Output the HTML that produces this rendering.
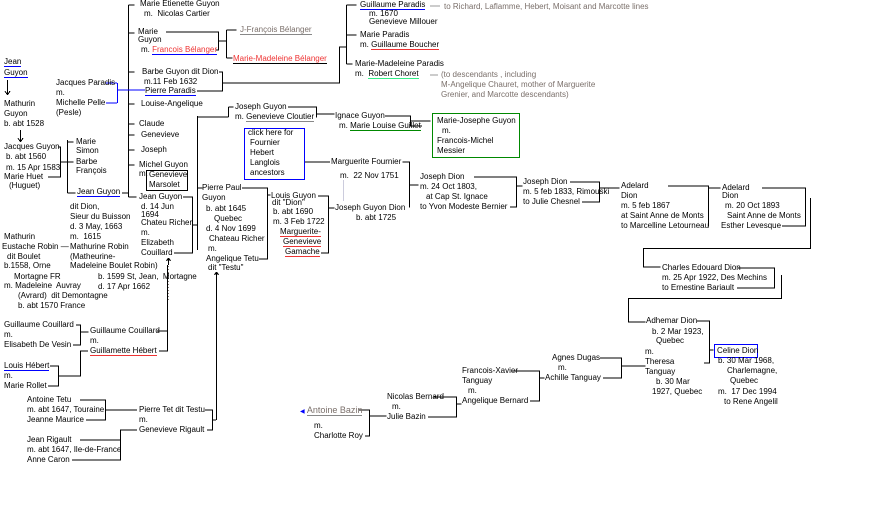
<!DOCTYPE html>
<html><head><meta charset="utf-8"><style>
body{margin:0;width:872px;height:517px;background:#fff;position:relative;overflow:hidden;font-family:"Liberation Sans",sans-serif;font-size:8px;color:#000}
.t{position:absolute;white-space:nowrap;line-height:10px}
.g{color:#7a6f6a}.r{color:#e33}
.ub{border-bottom:1px solid #00f}.ur{border-bottom:1px solid #e33}.ug{border-bottom:1px solid #080}.uk{border-bottom:1px solid #000}.ugr{border-bottom:1px solid #888}.ugn{border-bottom:1px solid #3e8}
.box{position:absolute;box-sizing:border-box}
svg{position:absolute;left:0;top:0}
</style></head><body>
<svg width="872" height="517" shape-rendering="crispEdges" fill="none" stroke="#000" stroke-width="1">
<path d="M7.5 80V95M20.5 130V142"/>
<path d="M7.5 95l-2.5 -4M7.5 95l2.5 -4M20.5 142l-2.5 -4M20.5 142l2.5 -4"/>
<path d="M58 147h2.5v30H48M60.5 162H67.5M67.5 140V193M67.5 142h6M67.5 162h6M67.5 193h8"/>
<path d="M122 193h6.5M128.5 5V197M128.5 5h6M128.5 33h6M128.5 72h6M128.5 104h6M128.5 124h6M128.5 135h6M128.5 150h6M128.5 165h6M128.5 197h8"/>
<path d="M166 32h52.5v18H216M218.5 41h7.5M226.5 30V58M226.5 30h10M226.5 58h6"/>
<path d="M219 72h3.5v19H197M222.5 83H339.5V47H346.5M346.5 5V64M346.5 5h10M346.5 35h10M346.5 64h6"/>
<path d="M183 197h9.5v56H174M192.5 225h4.5M197.5 116V250M197.5 117h31M228.5 107V117M228.5 107h5M197.5 188h5"/>
<path d="M288 107h28.5v10H316M316.5 114h18M385 116h25.5v10H422M410.5 121h20"/>
<path d="M242 188h25.5v71H259M267.5 195h3M318 196h10.5v57H321M328.5 208h6M410 207h-0.5V162h-7M409.5 185h9"/>
<path d="M304 162h26M474 177h42.5v30H510M516.5 186h6M570 182h29.5v20H582M599.5 188h20M668 186h40.5v40H708M708.5 188h12M762 188h43.5v38H782M810.5 198V248.5H643.5V267h17M738 268h36.5v20H737M781.5 275V298.5H628.5V322h17"/>
<path d="M697 321h12.5v42H704M709.5 350h4"/>
<path d="M600 358h21.5v20H603M621.5 366h24M512 371h27.5v30H530M539.5 378h5M433 397h23.5v20H428M456.5 404h5M359 410h10.5v26H365M369.5 416h17"/>
<path d="M76 325h4.5v20H73M80.5 332h8M157 331h10.5v20H159M167.5 331V265M50 366h8.5v20H48M58.5 376h22V351H88"/>
<path d="M80 400h25.5v20H86M105.5 410H137M205 410h7.5v20H207M212.5 420h3.5M216.5 420V276M80 440h40.5v20H72M120.5 450V430H137"/>
<path d="M430 6h10M430 75h8" stroke="#999"/>
<path d="M343.5 180V201" stroke="#ccd"/>
<path d="M168.5 266V300" stroke="#8a7f7a" stroke-dasharray="1 2"/>
<path d="M168.5 258v7M168.5 258l-2 3M168.5 258l2 3M216.5 272v5M216.5 272l-2 3M216.5 272l2 3"/>
<path d="M117.5 83V103M106 83h11M106 103h11M117 90h28" stroke="#00f"/>
</svg>

<div class="t" style="left:4px;top:57px"><span class="ub">Jean</span></div>
<div class="t" style="left:4px;top:68px"><span class="ub">Guyon</span></div>
<div class="t" style="left:4px;top:99px">Mathurin</div>
<div class="t" style="left:4px;top:109px">Guyon</div>
<div class="t" style="left:4px;top:119px">b. abt 1528</div>
<div class="t" style="left:4px;top:142px">Jacques Guyon</div>
<div class="t" style="left:6px;top:152px">b. abt 1560</div>
<div class="t" style="left:6px;top:163px">m. 15 Apr 1583</div>
<div class="t" style="left:4px;top:172px">Marie Huet</div>
<div class="t" style="left:9px;top:181px">(Huguet)</div>
<div class="t" style="left:76px;top:137px">Marie</div>
<div class="t" style="left:76px;top:146px">Simon</div>
<div class="t" style="left:76px;top:157px">Barbe</div>
<div class="t" style="left:76px;top:166px">François</div>
<div class="t" style="left:77px;top:187px"><span class="ub">Jean Guyon</span></div>
<div class="t" style="left:56px;top:78px">Jacques Paradis</div>
<div class="t" style="left:56px;top:88px">m.</div>
<div class="t" style="left:56px;top:98px">Michelle Pelle</div>
<div class="t" style="left:56px;top:108px">(Pesle)</div>
<div class="t" style="left:70px;top:202px">dit Dion,</div>
<div class="t" style="left:70px;top:212px">Sieur du Buisson</div>
<div class="t" style="left:70px;top:222px">d. 3 May, 1663</div>
<div class="t" style="left:70px;top:232px">m.&nbsp; 1615</div>
<div class="t" style="left:70px;top:242px">Mathurine Robin</div>
<div class="t" style="left:70px;top:252px">(Matheurine-</div>
<div class="t" style="left:70px;top:261px">Madeleine Boulet Robin)</div>
<div class="t" style="left:98px;top:272px">b. 1599 St, Jean,&nbsp; Mortagne</div>
<div class="t" style="left:98px;top:282px">d. 17 Apr 1662</div>
<div class="t" style="left:4px;top:232px">Mathurin</div>
<div class="t" style="left:2px;top:242px">Eustache Robin —</div>
<div class="t" style="left:7px;top:252px">dit Boulet</div>
<div class="t" style="left:4px;top:261px">b.1558, Orne</div>
<div class="t" style="left:14px;top:272px">Mortagne FR</div>
<div class="t" style="left:4px;top:281px">m. Madeleine&nbsp; Auvray</div>
<div class="t" style="left:18px;top:291px">(Avrard)&nbsp; dit Demontagne</div>
<div class="t" style="left:18px;top:301px">b. abt 1570 France</div>
<div class="t" style="left:4px;top:320px">Guillaume Couillard</div>
<div class="t" style="left:4px;top:330px">m.</div>
<div class="t" style="left:4px;top:340px">Elisabeth De Vesin</div>
<div class="t" style="left:90px;top:326px">Guillaume Couillard</div>
<div class="t" style="left:90px;top:336px">m.</div>
<div class="t" style="left:90px;top:346px"><span class="ur">Guillamette Hébert</span></div>
<div class="t" style="left:4px;top:361px"><span class="ub">Louis Hébert</span></div>
<div class="t" style="left:4px;top:371px">m.</div>
<div class="t" style="left:4px;top:381px">Marie Rollet</div>
<div class="t" style="left:27px;top:395px">Antoine Tetu</div>
<div class="t" style="left:27px;top:405px">m. abt 1647, Touraine</div>
<div class="t" style="left:27px;top:415px">Jeanne Maurice</div>
<div class="t" style="left:139px;top:405px">Pierre Tet dit Testu</div>
<div class="t" style="left:139px;top:415px">m.</div>
<div class="t" style="left:139px;top:425px">Genevieve Rigault</div>
<div class="t" style="left:27px;top:435px">Jean Rigault</div>
<div class="t" style="left:27px;top:445px">m. abt 1647, Ile-de-France</div>
<div class="t" style="left:27px;top:455px">Anne Caron</div>

<div class="t" style="left:140px;top:-1px">Marie Etienette Guyon</div>
<div class="t" style="left:144px;top:9px">m.&nbsp; Nicolas Cartier</div>
<div class="t" style="left:138px;top:27px">Marie</div>
<div class="t" style="left:138px;top:35px">Guyon</div>
<div class="t" style="left:141px;top:45px">m. <span class="r ub">Francois Bélanger</span></div>
<div class="t g" style="left:240px;top:25px"><span class="ugr">J-François Bélanger</span></div>
<div class="t r" style="left:233px;top:54px"><span class="uk">Marie-Madeleine Bélanger</span></div>
<div class="t" style="left:142px;top:67px">Barbe Guyon dit Dion</div>
<div class="t" style="left:144px;top:77px">m.11 Feb 1632</div>
<div class="t" style="left:145px;top:86px"><span class="ub">Pierre Paradis</span></div>
<div class="t" style="left:141px;top:99px">Louise-Angelique</div>
<div class="t" style="left:139px;top:119px">Claude</div>
<div class="t" style="left:141px;top:130px">Genevieve</div>
<div class="t" style="left:141px;top:145px">Joseph</div>
<div class="t" style="left:139px;top:160px">Michel Guyon</div>
<div class="t" style="left:139px;top:169px">m.</div>
<div class="box" style="left:146px;top:170px;width:42px;height:21px;border:1px solid #000"></div>
<div class="t" style="left:149px;top:170px">Genevieve</div>
<div class="t" style="left:149px;top:180px">Marsolet</div>
<div class="t" style="left:139px;top:192px">Jean Guyon</div>
<div class="t" style="left:141px;top:202px">d. 14 Jun</div>
<div class="t" style="left:141px;top:210px">1694</div>
<div class="t" style="left:141px;top:218px">Chateu Richer</div>
<div class="t" style="left:141px;top:228px">m.</div>
<div class="t" style="left:141px;top:238px">Elizabeth</div>
<div class="t" style="left:141px;top:248px">Couillard</div>

<div class="t" style="left:235px;top:102px">Joseph Guyon</div>
<div class="t" style="left:235px;top:112px">m. <span class="ugr">Genevieve Cloutier</span></div>
<div class="box" style="left:244px;top:128px;width:61px;height:52px;border:1px solid #00f"></div>
<div class="t" style="left:248px;top:128px">click here for</div>
<div class="t" style="left:250px;top:138px">Fournier</div>
<div class="t" style="left:250px;top:148px">Hebert</div>
<div class="t" style="left:250px;top:158px">Langlois</div>
<div class="t" style="left:250px;top:168px">ancestors</div>
<div class="t" style="left:202px;top:183px">Pierre Paul</div>
<div class="t" style="left:202px;top:193px">Guyon</div>
<div class="t" style="left:206px;top:204px">b. abt 1645</div>
<div class="t" style="left:214px;top:214px">Quebec</div>
<div class="t" style="left:206px;top:224px">d. 4 Nov 1699</div>
<div class="t" style="left:209px;top:234px">Chateau Richer</div>
<div class="t" style="left:208px;top:244px">m.</div>
<div class="t" style="left:206px;top:254px">Angelique Tetu</div>
<div class="t" style="left:208px;top:263px">dit "Testu"</div>
<div class="t" style="left:271px;top:191px">Louis Guyon</div>
<div class="t" style="left:272px;top:198px">dit "Dion"</div>
<div class="t" style="left:273px;top:207px">b. abt 1690</div>
<div class="t" style="left:273px;top:217px">m. 3 Feb 1722</div>
<div class="t" style="left:280px;top:227px"><span class="ur">Marguerite-</span></div>
<div class="t" style="left:283px;top:237px"><span class="ur">Genevieve</span></div>
<div class="t" style="left:285px;top:247px"><span class="ur">Gamache</span></div>

<div class="t" style="left:360px;top:0px"><span class="ub">Guillaume Paradis</span></div>
<div class="t g" style="left:444px;top:2px">to Richard, Laflamme, Hebert, Moisant and Marcotte lines</div>
<div class="t" style="left:369px;top:9px">m. 1670</div>
<div class="t" style="left:369px;top:17px">Genevieve Millouer</div>
<div class="t" style="left:360px;top:30px">Marie Paradis</div>
<div class="t" style="left:360px;top:40px">m. <span class="ur">Guillaume Boucher</span></div>
<div class="t" style="left:355px;top:59px">Marie-Madeleine Paradis</div>
<div class="t" style="left:355px;top:69px">m.&nbsp; <span class="ugn">Robert Choret</span></div>
<div class="t g" style="left:441px;top:70px">(to descendants , including</div>
<div class="t g" style="left:441px;top:80px">M-Angelique Chauret, mother of Marguerite</div>
<div class="t g" style="left:441px;top:90px">Grenier, and Marcotte descendants)</div>
<div class="t" style="left:335px;top:111px">Ignace Guyon</div>
<div class="t" style="left:339px;top:121px">m. <span class="ug">Marie Louise Guillet</span></div>
<div class="box" style="left:432px;top:113px;width:88px;height:45px;border:1px solid #080"></div>
<div class="t" style="left:437px;top:116px">Marie-Josephe Guyon</div>
<div class="t" style="left:442px;top:126px">m.</div>
<div class="t" style="left:437px;top:136px">Francois-Michel</div>
<div class="t" style="left:437px;top:146px">Messier</div>
<div class="t" style="left:331px;top:157px">Marguerite Fournier</div>
<div class="t" style="left:340px;top:171px">m.&nbsp; 22 Nov 1751</div>
<div class="t" style="left:335px;top:203px">Joseph Guyon Dion</div>
<div class="t" style="left:356px;top:213px">b. abt 1725</div>
<div class="t" style="left:420px;top:172px">Joseph Dion</div>
<div class="t" style="left:420px;top:182px">m. 24 Oct 1803,</div>
<div class="t" style="left:426px;top:192px">at Cap St. Ignace</div>
<div class="t" style="left:420px;top:202px">to Yvon Modeste Bernier</div>
<div class="t" style="left:523px;top:177px">Joseph Dion</div>
<div class="t" style="left:523px;top:187px">m. 5 feb 1833, Rimouski</div>
<div class="t" style="left:523px;top:197px">to Julie Chesnel</div>
<div class="t" style="left:621px;top:181px">Adelard</div>
<div class="t" style="left:621px;top:191px">Dion</div>
<div class="t" style="left:621px;top:201px">m. 5 feb 1867</div>
<div class="t" style="left:621px;top:211px">at Saint Anne de Monts</div>
<div class="t" style="left:621px;top:221px">to Marcelline Letourneau</div>
<div class="t" style="left:722px;top:183px">Adelard</div>
<div class="t" style="left:722px;top:191px">Dion</div>
<div class="t" style="left:725px;top:201px">m. 20 Oct 1893</div>
<div class="t" style="left:727px;top:211px">Saint Anne de Monts</div>
<div class="t" style="left:721px;top:221px">Esther Levesque</div>
<div class="t" style="left:662px;top:263px">Charles Edouard Dion</div>
<div class="t" style="left:662px;top:273px">m. 25 Apr 1922, Des Mechins</div>
<div class="t" style="left:662px;top:283px">to Ernestine Bariault</div>
<div class="t" style="left:646px;top:316px">Adhemar Dion</div>
<div class="t" style="left:652px;top:327px">b. 2 Mar 1923,</div>
<div class="t" style="left:656px;top:336px">Quebec</div>
<div class="t" style="left:645px;top:347px">m.</div>
<div class="t" style="left:645px;top:357px">Theresa</div>
<div class="t" style="left:645px;top:367px">Tanguay</div>
<div class="t" style="left:656px;top:377px">b. 30 Mar</div>
<div class="t" style="left:652px;top:387px">1927, Quebec</div>
<div class="box" style="left:714px;top:344px;width:44px;height:14px;border:1px solid #00f"></div>
<div class="t" style="left:717px;top:346px">Celine Dion</div>
<div class="t" style="left:718px;top:356px">b. 30 Mar 1968,</div>
<div class="t" style="left:727px;top:366px">Charlemagne,</div>
<div class="t" style="left:730px;top:376px">Quebec</div>
<div class="t" style="left:718px;top:387px">m.&nbsp; 17 Dec 1994</div>
<div class="t" style="left:724px;top:397px">to Rene Angelil</div>
<div class="t" style="left:552px;top:353px">Agnes Dugas</div>
<div class="t" style="left:558px;top:363px">m.</div>
<div class="t" style="left:545px;top:373px">Achille Tanguay</div>
<div class="t" style="left:462px;top:366px">Francois-Xavier</div>
<div class="t" style="left:462px;top:376px">Tanguay</div>
<div class="t" style="left:468px;top:386px">m.</div>
<div class="t" style="left:462px;top:396px">Angelique Bernard</div>
<div class="t" style="left:387px;top:392px">Nicolas Bernard</div>
<div class="t" style="left:392px;top:402px">m.</div>
<div class="t" style="left:387px;top:412px">Julie Bazin</div>
<div class="t" style="left:300px;top:405px"><span style="color:#00f;font-size:6px">◀</span> <span class="g ugr" style="font-size:9px">Antoine Bazin</span></div>
<div class="t" style="left:314px;top:421px">m.</div>
<div class="t" style="left:314px;top:431px">Charlotte Roy</div>
</body></html>
